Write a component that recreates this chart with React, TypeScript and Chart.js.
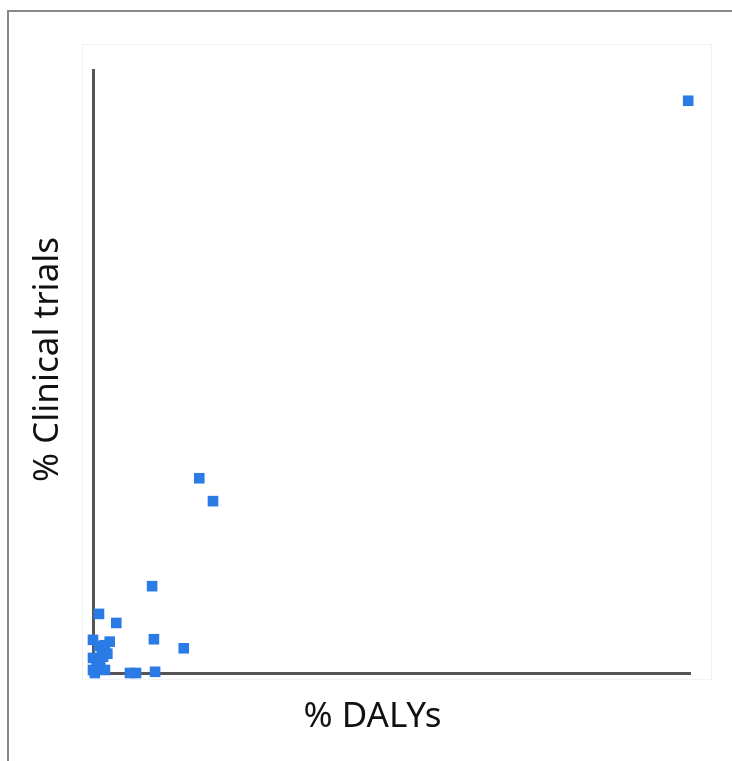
import React, { useEffect, useRef } from "react";
import { Chart, registerables } from "chart.js";

Chart.register(...registerables);

// % DALYs (x) and % clinical trials (y) (scaled 0–100)
const dalys = [99.7, 17.8, 20.1, 9.9, 1.0, 3.9, 10.2, 15.2, 0.0, 2.8, 2.0, 1.5, 0.0, 1.2, 1.7, 0.0, 2.0, 0.6, 6.2, 7.2, 10.4, 0.3, 2.4, 1.0];
const trials = [94.9, 32.3, 28.5, 14.4, 9.8, 8.3, 5.6, 4.1, 5.5, 5.2, 4.6, 3.8, 2.5, 2.2, 2.7, 0.5, 0.5, 1.0, 0.0, 0.0, 0.2, 0.0, 3.2, 4.5];

const xTitle = "% DALYs";
const yTitle = "% Clinical trials";

const FONT = "'Noto Sans', 'Open Sans', sans-serif";

const titlesPlugin = {
  id: "titles",
  afterDraw(chart: any) {
    const { ctx, chartArea } = chart;
    ctx.save();
    ctx.fillStyle = "#111";
    ctx.font = `35px ${FONT}`;
    ctx.textAlign = "center";
    ctx.textBaseline = "middle";
    ctx.fillText(xTitle, (chartArea.left + chartArea.right) / 2 - 19, chartArea.bottom + 44);
    ctx.translate(chartArea.left - 45, (chartArea.top + chartArea.bottom) / 2 - 12);
    ctx.rotate(-Math.PI / 2);
    ctx.fillText(yTitle, 0, 0);
    ctx.restore();
  },
};

export default function App() {
  const ref = useRef<HTMLCanvasElement>(null);
  useEffect(() => {
    if (!ref.current) return;
    const data = dalys.map((x, i) => ({ x, y: trials[i] }));
    const chart = new Chart(ref.current, {
      type: "scatter",
      data: {
        datasets: [
          {
            data,
            pointStyle: "rect",
            pointRadius: 7.5,
            pointHoverRadius: 7.5,
            pointBorderWidth: 0,
            backgroundColor: "#2a7be6",
            borderColor: "#2a7be6",
            clip: false,
          } as any,
        ],
      },
      options: {
        animation: false,
        responsive: false,
        maintainAspectRatio: false,
        layout: { padding: { left: 85, right: 42, top: 70, bottom: 80 } },
        plugins: { legend: { display: false }, tooltip: { enabled: false } },
        scales: {
          x: {
            type: "linear",
            min: 0,
            max: 100,
            grid: { display: false },
            ticks: { display: false },
            border: { display: true, color: "#555", width: 3 },
          },
          y: {
            type: "linear",
            min: 0,
            max: 100,
            grid: { display: false },
            ticks: { display: false },
            border: { display: true, color: "#555", width: 3 },
          },
        },
      },
      plugins: [titlesPlugin],
    });
    return () => chart.destroy();
  }, []);

  return (
    <div style={{ position: "fixed", left: 0, top: 0, width: 732, height: 761, overflow: "hidden", background: "#fff" }}>
      <div style={{ position: "absolute", left: 7, top: 10, width: 760, height: 800, border: "2px solid #888" }} />
      <div style={{ position: "absolute", left: 82, top: 44, width: 628, height: 634, border: "1px solid #f2f2f2" }} />
      <canvas ref={ref} width={732} height={761} style={{ position: "absolute", left: 0, top: 0 }} />
    </div>
  );
}
